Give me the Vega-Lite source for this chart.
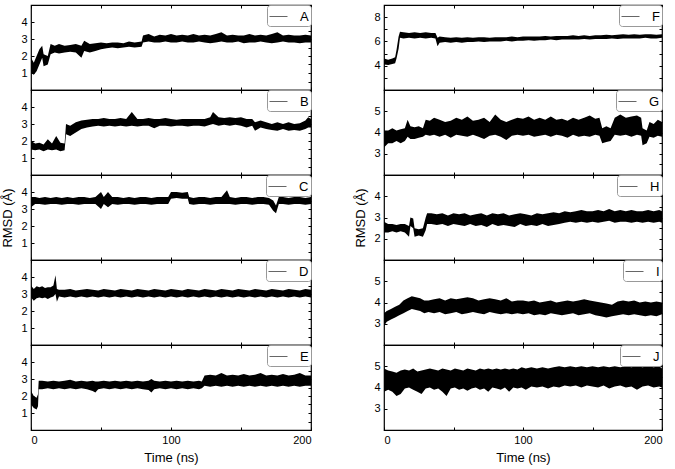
{
"$schema": "https://vega.github.io/schema/vega-lite/v6.json",
"padding": {"left": 1, "top": 3, "right": 4, "bottom": 2},
"background": "white",
"datasets": {
"A": [{"t":0,"l":1.0,"h":1.9},{"t":2,"l":0.9,"h":1.6},{"t":4,"l":1.1,"h":2.0},{"t":6,"l":1.5,"h":2.4},{"t":8,"l":1.9,"h":2.6},{"t":9,"l":1.4,"h":2.1},{"t":12,"l":1.5,"h":2.0},{"t":14,"l":2.1,"h":2.7},{"t":17,"l":2.2,"h":2.6},{"t":20,"l":2.15,"h":2.7},{"t":24,"l":2.2,"h":2.6},{"t":28,"l":2.25,"h":2.65},{"t":32,"l":2.2,"h":2.7},{"t":36,"l":1.9,"h":2.6},{"t":38,"l":2.3,"h":2.9},{"t":42,"l":2.2,"h":2.7},{"t":46,"l":2.3,"h":2.75},{"t":50,"l":2.4,"h":2.8},{"t":54,"l":2.45,"h":2.75},{"t":58,"l":2.5,"h":2.8},{"t":62,"l":2.45,"h":2.8},{"t":66,"l":2.5,"h":2.75},{"t":70,"l":2.55,"h":2.85},{"t":74,"l":2.5,"h":2.8},{"t":79,"l":2.55,"h":2.85},{"t":80,"l":2.8,"h":3.2},{"t":84,"l":2.85,"h":3.3},{"t":88,"l":2.8,"h":3.15},{"t":92,"l":2.8,"h":3.25},{"t":96,"l":2.85,"h":3.2},{"t":100,"l":2.8,"h":3.3},{"t":104,"l":2.8,"h":3.2},{"t":108,"l":2.85,"h":3.25},{"t":112,"l":2.8,"h":3.2},{"t":116,"l":2.8,"h":3.3},{"t":120,"l":2.85,"h":3.2},{"t":124,"l":2.8,"h":3.25},{"t":128,"l":2.75,"h":3.2},{"t":132,"l":2.8,"h":3.3},{"t":136,"l":2.85,"h":3.4},{"t":140,"l":2.8,"h":3.2},{"t":144,"l":2.8,"h":3.25},{"t":148,"l":2.85,"h":3.2},{"t":152,"l":2.75,"h":3.2},{"t":156,"l":2.8,"h":3.3},{"t":160,"l":2.8,"h":3.2},{"t":164,"l":2.85,"h":3.25},{"t":168,"l":2.8,"h":3.2},{"t":172,"l":2.75,"h":3.3},{"t":176,"l":2.8,"h":3.4},{"t":180,"l":2.85,"h":3.2},{"t":184,"l":2.8,"h":3.25},{"t":188,"l":2.8,"h":3.2},{"t":192,"l":2.75,"h":3.2},{"t":196,"l":2.8,"h":3.25},{"t":200,"l":2.8,"h":3.2}],
"B": [{"t":0,"l":1.5,"h":2.0},{"t":3,"l":1.45,"h":1.85},{"t":6,"l":1.5,"h":1.9},{"t":9,"l":1.4,"h":1.8},{"t":12,"l":1.5,"h":2.1},{"t":15,"l":1.45,"h":1.85},{"t":18,"l":1.5,"h":2.3},{"t":21,"l":1.4,"h":1.9},{"t":24,"l":1.45,"h":1.85},{"t":25,"l":2.4,"h":3.0},{"t":28,"l":2.3,"h":2.9},{"t":32,"l":2.5,"h":3.1},{"t":36,"l":2.7,"h":3.2},{"t":40,"l":2.8,"h":3.25},{"t":44,"l":2.85,"h":3.3},{"t":48,"l":2.9,"h":3.3},{"t":52,"l":2.85,"h":3.35},{"t":56,"l":2.9,"h":3.3},{"t":60,"l":2.85,"h":3.3},{"t":64,"l":2.9,"h":3.35},{"t":68,"l":2.85,"h":3.3},{"t":72,"l":2.9,"h":3.7},{"t":76,"l":2.85,"h":3.3},{"t":80,"l":2.9,"h":3.3},{"t":84,"l":2.9,"h":3.35},{"t":88,"l":2.75,"h":3.3},{"t":92,"l":2.9,"h":3.3},{"t":96,"l":2.9,"h":3.35},{"t":100,"l":2.85,"h":3.3},{"t":104,"l":2.9,"h":3.25},{"t":108,"l":2.9,"h":3.3},{"t":112,"l":2.85,"h":3.3},{"t":116,"l":2.9,"h":3.3},{"t":120,"l":2.9,"h":3.3},{"t":124,"l":2.85,"h":3.3},{"t":128,"l":2.95,"h":3.4},{"t":130,"l":3.0,"h":3.7},{"t":134,"l":2.9,"h":3.4},{"t":138,"l":2.95,"h":3.35},{"t":142,"l":2.9,"h":3.4},{"t":146,"l":2.95,"h":3.35},{"t":150,"l":2.9,"h":3.4},{"t":154,"l":2.8,"h":3.3},{"t":158,"l":2.9,"h":3.3},{"t":160,"l":2.6,"h":3.1},{"t":164,"l":2.8,"h":3.2},{"t":168,"l":2.7,"h":3.1},{"t":172,"l":2.65,"h":3.0},{"t":176,"l":2.6,"h":3.1},{"t":180,"l":2.7,"h":3.0},{"t":184,"l":2.6,"h":3.1},{"t":188,"l":2.65,"h":3.0},{"t":192,"l":2.6,"h":3.05},{"t":196,"l":2.7,"h":3.2},{"t":198,"l":2.8,"h":3.4},{"t":200,"l":2.8,"h":3.3}],
"C": [{"t":0,"l":3.1,"h":3.7},{"t":3,"l":3.3,"h":3.7},{"t":6,"l":3.3,"h":3.65},{"t":10,"l":3.25,"h":3.7},{"t":14,"l":3.3,"h":3.65},{"t":18,"l":3.3,"h":3.7},{"t":22,"l":3.25,"h":3.65},{"t":26,"l":3.3,"h":3.7},{"t":30,"l":3.3,"h":3.65},{"t":34,"l":3.25,"h":3.7},{"t":38,"l":3.3,"h":3.7},{"t":42,"l":3.3,"h":3.65},{"t":46,"l":3.3,"h":3.7},{"t":50,"l":3.0,"h":4.0},{"t":52,"l":3.3,"h":3.7},{"t":55,"l":3.1,"h":4.0},{"t":58,"l":3.3,"h":3.7},{"t":62,"l":3.25,"h":3.7},{"t":66,"l":3.3,"h":3.65},{"t":70,"l":3.3,"h":3.7},{"t":74,"l":3.25,"h":3.65},{"t":78,"l":3.3,"h":3.7},{"t":82,"l":3.3,"h":3.7},{"t":86,"l":3.25,"h":3.65},{"t":90,"l":3.3,"h":3.7},{"t":94,"l":3.3,"h":3.7},{"t":98,"l":3.3,"h":3.7},{"t":100,"l":3.6,"h":4.0},{"t":104,"l":3.65,"h":4.0},{"t":108,"l":3.6,"h":3.95},{"t":112,"l":3.6,"h":4.0},{"t":113,"l":3.3,"h":3.7},{"t":116,"l":3.25,"h":3.65},{"t":120,"l":3.3,"h":3.7},{"t":124,"l":3.3,"h":3.7},{"t":128,"l":3.25,"h":3.65},{"t":132,"l":3.3,"h":3.7},{"t":136,"l":3.3,"h":3.7},{"t":140,"l":3.3,"h":4.1},{"t":142,"l":3.3,"h":3.7},{"t":146,"l":3.25,"h":3.65},{"t":150,"l":3.3,"h":3.7},{"t":154,"l":3.3,"h":3.7},{"t":158,"l":3.25,"h":3.65},{"t":162,"l":3.3,"h":3.7},{"t":166,"l":3.3,"h":3.7},{"t":170,"l":3.25,"h":3.65},{"t":173,"l":2.9,"h":3.5},{"t":175,"l":2.75,"h":3.2},{"t":177,"l":3.3,"h":3.7},{"t":180,"l":3.3,"h":3.7},{"t":184,"l":3.25,"h":3.65},{"t":188,"l":3.3,"h":3.7},{"t":192,"l":3.3,"h":3.7},{"t":196,"l":3.25,"h":3.65},{"t":200,"l":3.3,"h":3.7}],
"D": [{"t":0,"l":2.8,"h":3.5},{"t":2,"l":2.6,"h":3.3},{"t":4,"l":2.75,"h":3.45},{"t":6,"l":2.8,"h":3.4},{"t":8,"l":2.75,"h":3.45},{"t":10,"l":2.8,"h":3.35},{"t":12,"l":2.7,"h":3.4},{"t":14,"l":2.8,"h":3.4},{"t":16,"l":2.85,"h":3.5},{"t":17.5,"l":3.0,"h":4.1},{"t":18.5,"l":2.55,"h":3.3},{"t":20,"l":2.85,"h":3.25},{"t":24,"l":2.8,"h":3.25},{"t":28,"l":2.85,"h":3.3},{"t":32,"l":2.8,"h":3.2},{"t":36,"l":2.85,"h":3.25},{"t":40,"l":2.8,"h":3.3},{"t":44,"l":2.85,"h":3.25},{"t":48,"l":2.8,"h":3.2},{"t":52,"l":2.85,"h":3.3},{"t":56,"l":2.8,"h":3.25},{"t":60,"l":2.85,"h":3.2},{"t":64,"l":2.8,"h":3.3},{"t":68,"l":2.85,"h":3.25},{"t":72,"l":2.8,"h":3.2},{"t":76,"l":2.85,"h":3.3},{"t":80,"l":2.8,"h":3.25},{"t":84,"l":2.85,"h":3.2},{"t":88,"l":2.8,"h":3.3},{"t":92,"l":2.85,"h":3.25},{"t":96,"l":2.8,"h":3.2},{"t":100,"l":2.85,"h":3.3},{"t":104,"l":2.8,"h":3.25},{"t":108,"l":2.85,"h":3.2},{"t":112,"l":2.8,"h":3.3},{"t":116,"l":2.85,"h":3.25},{"t":120,"l":2.8,"h":3.2},{"t":124,"l":2.85,"h":3.3},{"t":128,"l":2.8,"h":3.25},{"t":132,"l":2.85,"h":3.2},{"t":136,"l":2.8,"h":3.3},{"t":140,"l":2.85,"h":3.25},{"t":144,"l":2.8,"h":3.2},{"t":148,"l":2.85,"h":3.3},{"t":152,"l":2.8,"h":3.25},{"t":156,"l":2.85,"h":3.2},{"t":160,"l":2.8,"h":3.3},{"t":164,"l":2.85,"h":3.25},{"t":168,"l":2.8,"h":3.2},{"t":172,"l":2.85,"h":3.3},{"t":176,"l":2.8,"h":3.25},{"t":180,"l":2.85,"h":3.2},{"t":184,"l":2.8,"h":3.3},{"t":188,"l":2.85,"h":3.25},{"t":192,"l":2.8,"h":3.2},{"t":196,"l":2.85,"h":3.3},{"t":200,"l":2.8,"h":3.25}],
"E": [{"t":0,"l":1.5,"h":2.3},{"t":2,"l":1.3,"h":2.0},{"t":4,"l":1.2,"h":1.9},{"t":5,"l":1.4,"h":2.1},{"t":5.5,"l":2.4,"h":2.9},{"t":8,"l":2.4,"h":2.9},{"t":12,"l":2.45,"h":2.85},{"t":16,"l":2.4,"h":2.9},{"t":20,"l":2.45,"h":2.85},{"t":24,"l":2.4,"h":2.9},{"t":28,"l":2.45,"h":2.95},{"t":32,"l":2.4,"h":2.85},{"t":36,"l":2.45,"h":2.9},{"t":40,"l":2.4,"h":2.85},{"t":44,"l":2.3,"h":2.9},{"t":46,"l":2.2,"h":2.85},{"t":48,"l":2.4,"h":2.85},{"t":52,"l":2.45,"h":2.9},{"t":56,"l":2.4,"h":2.85},{"t":60,"l":2.45,"h":2.9},{"t":64,"l":2.4,"h":2.85},{"t":68,"l":2.45,"h":2.9},{"t":72,"l":2.4,"h":2.85},{"t":76,"l":2.45,"h":2.9},{"t":80,"l":2.4,"h":2.85},{"t":84,"l":2.35,"h":2.9},{"t":86,"l":2.2,"h":3.0},{"t":88,"l":2.4,"h":2.9},{"t":92,"l":2.45,"h":2.85},{"t":96,"l":2.4,"h":2.9},{"t":100,"l":2.45,"h":2.85},{"t":104,"l":2.4,"h":2.9},{"t":108,"l":2.45,"h":2.85},{"t":112,"l":2.4,"h":2.9},{"t":116,"l":2.45,"h":2.85},{"t":120,"l":2.4,"h":2.9},{"t":122,"l":2.45,"h":2.85},{"t":124,"l":2.6,"h":3.2},{"t":128,"l":2.55,"h":3.25},{"t":132,"l":2.6,"h":3.2},{"t":136,"l":2.55,"h":3.35},{"t":140,"l":2.6,"h":3.2},{"t":144,"l":2.55,"h":3.25},{"t":148,"l":2.6,"h":3.2},{"t":152,"l":2.55,"h":3.3},{"t":156,"l":2.6,"h":3.2},{"t":160,"l":2.55,"h":3.25},{"t":164,"l":2.6,"h":3.35},{"t":168,"l":2.55,"h":3.2},{"t":172,"l":2.6,"h":3.25},{"t":176,"l":2.55,"h":3.2},{"t":180,"l":2.6,"h":3.3},{"t":184,"l":2.55,"h":3.2},{"t":188,"l":2.6,"h":3.25},{"t":192,"l":2.55,"h":3.35},{"t":196,"l":2.6,"h":3.2},{"t":200,"l":2.6,"h":3.2}],
"F": [{"t":0,"l":4.1,"h":4.6},{"t":3,"l":4.05,"h":4.5},{"t":6,"l":4.15,"h":4.6},{"t":8,"l":4.2,"h":4.7},{"t":9,"l":4.6,"h":5.3},{"t":10.5,"l":5.4,"h":6.4},{"t":11.5,"l":6.3,"h":6.8},{"t":14,"l":6.25,"h":6.75},{"t":18,"l":6.3,"h":6.7},{"t":22,"l":6.25,"h":6.75},{"t":26,"l":6.3,"h":6.7},{"t":30,"l":6.25,"h":6.75},{"t":34,"l":6.3,"h":6.7},{"t":37,"l":6.25,"h":6.7},{"t":38.5,"l":5.6,"h":6.3},{"t":40,"l":5.9,"h":6.4},{"t":44,"l":5.95,"h":6.35},{"t":48,"l":5.9,"h":6.3},{"t":52,"l":5.95,"h":6.35},{"t":56,"l":5.9,"h":6.3},{"t":60,"l":5.95,"h":6.35},{"t":64,"l":5.95,"h":6.3},{"t":68,"l":6.0,"h":6.35},{"t":72,"l":5.95,"h":6.35},{"t":76,"l":6.0,"h":6.3},{"t":80,"l":6.0,"h":6.35},{"t":84,"l":6.0,"h":6.35},{"t":88,"l":6.05,"h":6.35},{"t":92,"l":6.0,"h":6.4},{"t":96,"l":6.05,"h":6.35},{"t":100,"l":6.05,"h":6.4},{"t":104,"l":6.1,"h":6.4},{"t":108,"l":6.05,"h":6.4},{"t":112,"l":6.1,"h":6.4},{"t":116,"l":6.1,"h":6.45},{"t":120,"l":6.15,"h":6.4},{"t":124,"l":6.1,"h":6.45},{"t":128,"l":6.15,"h":6.45},{"t":132,"l":6.15,"h":6.45},{"t":136,"l":6.15,"h":6.5},{"t":140,"l":6.15,"h":6.45},{"t":144,"l":6.2,"h":6.5},{"t":148,"l":6.15,"h":6.45},{"t":152,"l":6.2,"h":6.5},{"t":156,"l":6.2,"h":6.5},{"t":160,"l":6.2,"h":6.55},{"t":164,"l":6.25,"h":6.5},{"t":168,"l":6.2,"h":6.55},{"t":172,"l":6.25,"h":6.6},{"t":176,"l":6.25,"h":6.55},{"t":180,"l":6.25,"h":6.6},{"t":184,"l":6.25,"h":6.55},{"t":188,"l":6.3,"h":6.6},{"t":192,"l":6.25,"h":6.6},{"t":196,"l":6.25,"h":6.55},{"t":200,"l":6.3,"h":6.6}],
"G": [{"t":0,"l":3.3,"h":4.1},{"t":3,"l":3.5,"h":4.1},{"t":6,"l":3.5,"h":4.2},{"t":9,"l":3.6,"h":4.1},{"t":12,"l":3.5,"h":4.15},{"t":15,"l":3.6,"h":4.2},{"t":17,"l":3.8,"h":4.6},{"t":19,"l":3.7,"h":4.3},{"t":22,"l":3.7,"h":4.25},{"t":25,"l":3.75,"h":4.3},{"t":28,"l":3.8,"h":4.2},{"t":30,"l":3.9,"h":4.6},{"t":33,"l":3.85,"h":4.55},{"t":36,"l":3.9,"h":4.7},{"t":40,"l":3.8,"h":4.6},{"t":44,"l":3.9,"h":4.5},{"t":48,"l":3.75,"h":4.55},{"t":52,"l":3.9,"h":4.7},{"t":56,"l":3.85,"h":4.6},{"t":60,"l":3.8,"h":4.75},{"t":64,"l":3.9,"h":4.55},{"t":68,"l":3.8,"h":4.6},{"t":72,"l":3.7,"h":4.7},{"t":76,"l":3.85,"h":4.5},{"t":80,"l":3.9,"h":4.85},{"t":84,"l":3.8,"h":4.6},{"t":88,"l":3.65,"h":4.5},{"t":92,"l":3.85,"h":4.6},{"t":96,"l":3.9,"h":4.7},{"t":100,"l":3.85,"h":4.65},{"t":104,"l":3.9,"h":4.75},{"t":108,"l":3.8,"h":4.6},{"t":112,"l":3.85,"h":4.7},{"t":116,"l":3.9,"h":4.6},{"t":120,"l":3.8,"h":4.75},{"t":124,"l":3.9,"h":4.6},{"t":128,"l":3.85,"h":4.65},{"t":132,"l":3.75,"h":4.55},{"t":136,"l":3.9,"h":4.7},{"t":140,"l":3.8,"h":4.6},{"t":144,"l":3.85,"h":4.7},{"t":148,"l":3.8,"h":4.8},{"t":152,"l":3.9,"h":4.65},{"t":155,"l":3.85,"h":4.7},{"t":157,"l":3.5,"h":4.2},{"t":160,"l":3.55,"h":4.3},{"t":163,"l":3.6,"h":4.2},{"t":166,"l":3.9,"h":4.7},{"t":170,"l":3.85,"h":4.85},{"t":174,"l":3.9,"h":4.7},{"t":178,"l":3.8,"h":4.75},{"t":182,"l":3.9,"h":4.8},{"t":185,"l":3.85,"h":4.7},{"t":186,"l":3.4,"h":4.2},{"t":189,"l":3.5,"h":4.1},{"t":191,"l":3.8,"h":4.5},{"t":194,"l":3.75,"h":4.4},{"t":197,"l":3.85,"h":4.6},{"t":200,"l":3.8,"h":4.5}],
"H": [{"t":0,"l":2.3,"h":2.8},{"t":3,"l":2.3,"h":2.7},{"t":6,"l":2.35,"h":2.7},{"t":9,"l":2.3,"h":2.65},{"t":12,"l":2.35,"h":2.7},{"t":15,"l":2.3,"h":2.7},{"t":18,"l":2.1,"h":2.6},{"t":19,"l":2.6,"h":3.0},{"t":21,"l":2.5,"h":2.95},{"t":22,"l":2.1,"h":2.5},{"t":25,"l":2.15,"h":2.45},{"t":28,"l":2.1,"h":2.5},{"t":30,"l":2.4,"h":3.0},{"t":31,"l":2.7,"h":3.2},{"t":34,"l":2.7,"h":3.2},{"t":38,"l":2.65,"h":3.15},{"t":42,"l":2.7,"h":3.2},{"t":46,"l":2.6,"h":3.1},{"t":50,"l":2.7,"h":3.2},{"t":54,"l":2.65,"h":3.15},{"t":58,"l":2.6,"h":3.2},{"t":62,"l":2.7,"h":3.1},{"t":66,"l":2.6,"h":3.15},{"t":70,"l":2.65,"h":3.2},{"t":74,"l":2.55,"h":3.1},{"t":78,"l":2.7,"h":3.2},{"t":82,"l":2.6,"h":3.15},{"t":86,"l":2.65,"h":3.2},{"t":90,"l":2.6,"h":3.1},{"t":94,"l":2.55,"h":3.15},{"t":98,"l":2.7,"h":3.2},{"t":102,"l":2.6,"h":3.15},{"t":106,"l":2.65,"h":3.1},{"t":110,"l":2.6,"h":3.2},{"t":114,"l":2.7,"h":3.15},{"t":118,"l":2.6,"h":3.2},{"t":122,"l":2.65,"h":3.25},{"t":126,"l":2.7,"h":3.2},{"t":130,"l":2.75,"h":3.3},{"t":134,"l":2.8,"h":3.25},{"t":138,"l":2.75,"h":3.3},{"t":142,"l":2.8,"h":3.35},{"t":146,"l":2.75,"h":3.3},{"t":150,"l":2.8,"h":3.3},{"t":154,"l":2.75,"h":3.35},{"t":158,"l":2.8,"h":3.3},{"t":162,"l":2.85,"h":3.4},{"t":166,"l":2.75,"h":3.3},{"t":170,"l":2.8,"h":3.35},{"t":174,"l":2.8,"h":3.3},{"t":178,"l":2.75,"h":3.35},{"t":182,"l":2.8,"h":3.3},{"t":186,"l":2.75,"h":3.3},{"t":190,"l":2.8,"h":3.35},{"t":194,"l":2.75,"h":3.3},{"t":198,"l":2.8,"h":3.35},{"t":200,"l":2.75,"h":3.3}],
"I": [{"t":0,"l":2.9,"h":3.5},{"t":2,"l":3.1,"h":3.6},{"t":5,"l":3.2,"h":3.7},{"t":8,"l":3.3,"h":3.8},{"t":11,"l":3.4,"h":3.9},{"t":14,"l":3.5,"h":4.1},{"t":17,"l":3.6,"h":4.2},{"t":20,"l":3.7,"h":4.3},{"t":23,"l":3.65,"h":4.25},{"t":26,"l":3.6,"h":4.2},{"t":29,"l":3.5,"h":4.1},{"t":32,"l":3.55,"h":4.1},{"t":36,"l":3.5,"h":4.15},{"t":40,"l":3.55,"h":4.2},{"t":44,"l":3.45,"h":4.1},{"t":48,"l":3.5,"h":4.2},{"t":52,"l":3.55,"h":4.15},{"t":56,"l":3.45,"h":4.2},{"t":60,"l":3.5,"h":4.25},{"t":64,"l":3.55,"h":4.2},{"t":68,"l":3.5,"h":4.1},{"t":72,"l":3.45,"h":4.15},{"t":76,"l":3.55,"h":4.2},{"t":80,"l":3.5,"h":4.15},{"t":84,"l":3.45,"h":4.1},{"t":88,"l":3.5,"h":4.2},{"t":92,"l":3.45,"h":4.05},{"t":96,"l":3.5,"h":4.1},{"t":100,"l":3.45,"h":4.1},{"t":104,"l":3.5,"h":4.05},{"t":108,"l":3.4,"h":4.1},{"t":112,"l":3.45,"h":4.0},{"t":116,"l":3.4,"h":4.05},{"t":120,"l":3.5,"h":4.1},{"t":124,"l":3.45,"h":4.0},{"t":128,"l":3.4,"h":4.05},{"t":132,"l":3.45,"h":4.1},{"t":136,"l":3.5,"h":4.05},{"t":140,"l":3.4,"h":4.1},{"t":144,"l":3.45,"h":4.15},{"t":148,"l":3.5,"h":4.1},{"t":152,"l":3.4,"h":4.05},{"t":156,"l":3.35,"h":4.0},{"t":160,"l":3.3,"h":3.95},{"t":164,"l":3.35,"h":3.9},{"t":168,"l":3.4,"h":4.05},{"t":172,"l":3.45,"h":4.1},{"t":176,"l":3.4,"h":4.05},{"t":180,"l":3.45,"h":4.1},{"t":184,"l":3.4,"h":4.0},{"t":188,"l":3.35,"h":4.05},{"t":192,"l":3.4,"h":4.0},{"t":196,"l":3.35,"h":4.05},{"t":200,"l":3.45,"h":4.0}],
"J": [{"t":0,"l":3.8,"h":4.9},{"t":3,"l":3.9,"h":4.8},{"t":6,"l":3.8,"h":4.75},{"t":9,"l":3.6,"h":4.7},{"t":12,"l":3.7,"h":4.8},{"t":15,"l":3.95,"h":4.85},{"t":18,"l":4.0,"h":4.8},{"t":21,"l":3.9,"h":4.9},{"t":24,"l":3.8,"h":4.75},{"t":27,"l":3.7,"h":4.8},{"t":30,"l":3.95,"h":4.85},{"t":33,"l":4.0,"h":4.9},{"t":36,"l":3.9,"h":4.85},{"t":39,"l":3.95,"h":4.8},{"t":42,"l":3.8,"h":4.9},{"t":45,"l":3.6,"h":4.85},{"t":48,"l":3.95,"h":4.8},{"t":51,"l":4.0,"h":4.9},{"t":54,"l":3.9,"h":4.85},{"t":57,"l":3.95,"h":4.8},{"t":60,"l":3.85,"h":4.9},{"t":63,"l":3.95,"h":4.85},{"t":66,"l":4.0,"h":4.8},{"t":69,"l":3.9,"h":4.9},{"t":72,"l":3.95,"h":4.85},{"t":75,"l":3.8,"h":4.9},{"t":78,"l":4.0,"h":4.85},{"t":81,"l":3.95,"h":4.9},{"t":84,"l":3.9,"h":4.85},{"t":87,"l":4.0,"h":4.9},{"t":90,"l":3.8,"h":4.85},{"t":93,"l":4.0,"h":4.9},{"t":96,"l":3.95,"h":4.85},{"t":99,"l":4.0,"h":4.95},{"t":102,"l":3.9,"h":4.9},{"t":106,"l":4.05,"h":4.95},{"t":110,"l":4.0,"h":4.9},{"t":114,"l":4.05,"h":4.95},{"t":118,"l":3.95,"h":4.9},{"t":122,"l":4.05,"h":4.95},{"t":126,"l":4.0,"h":5.0},{"t":130,"l":4.1,"h":4.95},{"t":134,"l":4.05,"h":5.0},{"t":138,"l":4.1,"h":4.95},{"t":142,"l":4.0,"h":5.0},{"t":146,"l":4.1,"h":4.95},{"t":150,"l":4.05,"h":5.0},{"t":154,"l":4.0,"h":4.95},{"t":158,"l":4.1,"h":5.0},{"t":162,"l":3.95,"h":4.95},{"t":166,"l":4.05,"h":5.0},{"t":170,"l":4.1,"h":4.95},{"t":174,"l":4.0,"h":5.0},{"t":178,"l":4.05,"h":4.95},{"t":182,"l":3.9,"h":5.0},{"t":186,"l":4.05,"h":4.95},{"t":190,"l":4.1,"h":5.0},{"t":194,"l":4.0,"h":4.95},{"t":198,"l":4.05,"h":5.0},{"t":200,"l":4.0,"h":4.9}]
},
"hconcat": [
{"vconcat": [
 {"width":280,"height":85,"data":{"name":"A"},"layer":[
  {"mark":"area","encoding":{"x":{"field":"t","type":"quantitative","scale":{"domain":[0,200],"nice":false},"axis":{"orient":"bottom","values":[0,50,100,150,200],"labels":false,"title":null}},"y":{"field":"l","type":"quantitative","scale":{"domain":[0,5],"nice":false,"zero":false},"axis":{"orient":"left","values":[0,0.5,1,1.5,2,2.5,3,3.5,4,4.5,5],"format":"d","labelExpr":"indexof([1,2,3,4], datum.value) >= 0 ? datum.label : ''","title":null}},"y2":{"field":"h"},"color":{"datum":"A","scale":{"domain":["A"],"range":["black"]}}}},
  {"mark":{"type":"area","opacity":0},"encoding":{"x":{"field":"t","type":"quantitative","axis":{"orient":"top","values":[0,50,100,150,200],"labels":false,"title":null}},"y":{"field":"l","type":"quantitative","axis":{"orient":"right","values":[0,0.5,1,1.5,2,2.5,3,3.5,4,4.5,5],"labels":false,"title":null}},"y2":{"field":"h"}}}
 ],"resolve":{"axis":{"x":"independent","y":"independent"}}},
 {"width":280,"height":85,"data":{"name":"B"},"layer":[
  {"mark":"area","encoding":{"x":{"field":"t","type":"quantitative","scale":{"domain":[0,200],"nice":false},"axis":{"orient":"bottom","values":[0,50,100,150,200],"labels":false,"title":null}},"y":{"field":"l","type":"quantitative","scale":{"domain":[0,5],"nice":false,"zero":false},"axis":{"orient":"left","values":[0,0.5,1,1.5,2,2.5,3,3.5,4,4.5,5],"format":"d","labelExpr":"indexof([1,2,3,4], datum.value) >= 0 ? datum.label : ''","title":null}},"y2":{"field":"h"},"color":{"datum":"B","scale":{"domain":["B"],"range":["black"]}}}},
  {"mark":{"type":"area","opacity":0},"encoding":{"x":{"field":"t","type":"quantitative","axis":{"orient":"top","values":[0,50,100,150,200],"labels":false,"title":null}},"y":{"field":"l","type":"quantitative","axis":{"orient":"right","values":[0,0.5,1,1.5,2,2.5,3,3.5,4,4.5,5],"labels":false,"title":null}},"y2":{"field":"h"}}}
 ],"resolve":{"axis":{"x":"independent","y":"independent"}}},
 {"width":280,"height":85,"data":{"name":"C"},"layer":[
  {"mark":"area","encoding":{"x":{"field":"t","type":"quantitative","scale":{"domain":[0,200],"nice":false},"axis":{"orient":"bottom","values":[0,50,100,150,200],"labels":false,"title":null}},"y":{"field":"l","type":"quantitative","scale":{"domain":[0,5],"nice":false,"zero":false},"axis":{"orient":"left","values":[0,0.5,1,1.5,2,2.5,3,3.5,4,4.5,5],"format":"d","labelExpr":"indexof([1,2,3,4], datum.value) >= 0 ? datum.label : ''","title":"RMSD (Å)"}},"y2":{"field":"h"},"color":{"datum":"C","scale":{"domain":["C"],"range":["black"]}}}},
  {"mark":{"type":"area","opacity":0},"encoding":{"x":{"field":"t","type":"quantitative","axis":{"orient":"top","values":[0,50,100,150,200],"labels":false,"title":null}},"y":{"field":"l","type":"quantitative","axis":{"orient":"right","values":[0,0.5,1,1.5,2,2.5,3,3.5,4,4.5,5],"labels":false,"title":null}},"y2":{"field":"h"}}}
 ],"resolve":{"axis":{"x":"independent","y":"independent"}}},
 {"width":280,"height":85,"data":{"name":"D"},"layer":[
  {"mark":"area","encoding":{"x":{"field":"t","type":"quantitative","scale":{"domain":[0,200],"nice":false},"axis":{"orient":"bottom","values":[0,50,100,150,200],"labels":false,"title":null}},"y":{"field":"l","type":"quantitative","scale":{"domain":[0,5],"nice":false,"zero":false},"axis":{"orient":"left","values":[0,0.5,1,1.5,2,2.5,3,3.5,4,4.5,5],"format":"d","labelExpr":"indexof([1,2,3,4], datum.value) >= 0 ? datum.label : ''","title":null}},"y2":{"field":"h"},"color":{"datum":"D","scale":{"domain":["D"],"range":["black"]}}}},
  {"mark":{"type":"area","opacity":0},"encoding":{"x":{"field":"t","type":"quantitative","axis":{"orient":"top","values":[0,50,100,150,200],"labels":false,"title":null}},"y":{"field":"l","type":"quantitative","axis":{"orient":"right","values":[0,0.5,1,1.5,2,2.5,3,3.5,4,4.5,5],"labels":false,"title":null}},"y2":{"field":"h"}}}
 ],"resolve":{"axis":{"x":"independent","y":"independent"}}},
 {"width":280,"height":85,"data":{"name":"E"},"layer":[
  {"mark":"area","encoding":{"x":{"field":"t","type":"quantitative","scale":{"domain":[0,200],"nice":false},"axis":{"orient":"bottom","values":[0,50,100,150,200],"format":"d","labelExpr":"datum.value % 100 === 0 ? datum.label : ''","title":"Time (ns)"}},"y":{"field":"l","type":"quantitative","scale":{"domain":[0,5],"nice":false,"zero":false},"axis":{"orient":"left","values":[0,0.5,1,1.5,2,2.5,3,3.5,4,4.5,5],"format":"d","labelExpr":"indexof([1,2,3,4], datum.value) >= 0 ? datum.label : ''","title":null}},"y2":{"field":"h"},"color":{"datum":"E","scale":{"domain":["E"],"range":["black"]}}}},
  {"mark":{"type":"area","opacity":0},"encoding":{"x":{"field":"t","type":"quantitative","axis":{"orient":"top","values":[0,50,100,150,200],"labels":false,"title":null}},"y":{"field":"l","type":"quantitative","axis":{"orient":"right","values":[0,0.5,1,1.5,2,2.5,3,3.5,4,4.5,5],"labels":false,"title":null}},"y2":{"field":"h"}}}
 ],"resolve":{"axis":{"x":"independent","y":"independent"}}}
], "spacing": 0, "bounds": "flush", "resolve": {"scale": {"color": "independent"}, "legend": {"color": "independent"}}},
{"vconcat": [
 {"width":278,"height":85,"data":{"name":"F"},"layer":[
  {"mark":"area","encoding":{"x":{"field":"t","type":"quantitative","scale":{"domain":[0,200],"nice":false},"axis":{"orient":"bottom","values":[0,50,100,150,200],"labels":false,"title":null}},"y":{"field":"l","type":"quantitative","scale":{"domain":[2,9],"nice":false,"zero":false},"axis":{"orient":"left","values":[2,3,4,5,6,7,8,9],"format":"d","labelExpr":"indexof([4,6,8], datum.value) >= 0 ? datum.label : ''","title":null}},"y2":{"field":"h"},"color":{"datum":"F","scale":{"domain":["F"],"range":["black"]}}}},
  {"mark":{"type":"area","opacity":0},"encoding":{"x":{"field":"t","type":"quantitative","axis":{"orient":"top","values":[0,50,100,150,200],"labels":false,"title":null}},"y":{"field":"l","type":"quantitative","axis":{"orient":"right","values":[2,3,4,5,6,7,8,9],"labels":false,"title":null}},"y2":{"field":"h"}}}
 ],"resolve":{"axis":{"x":"independent","y":"independent"}}},
 {"width":278,"height":85,"data":{"name":"G"},"layer":[
  {"mark":"area","encoding":{"x":{"field":"t","type":"quantitative","scale":{"domain":[0,200],"nice":false},"axis":{"orient":"bottom","values":[0,50,100,150,200],"labels":false,"title":null}},"y":{"field":"l","type":"quantitative","scale":{"domain":[2,6],"nice":false,"zero":false},"axis":{"orient":"left","values":[2,2.5,3,3.5,4,4.5,5,5.5,6],"format":"d","labelExpr":"indexof([3,4,5], datum.value) >= 0 ? datum.label : ''","title":null}},"y2":{"field":"h"},"color":{"datum":"G","scale":{"domain":["G"],"range":["black"]}}}},
  {"mark":{"type":"area","opacity":0},"encoding":{"x":{"field":"t","type":"quantitative","axis":{"orient":"top","values":[0,50,100,150,200],"labels":false,"title":null}},"y":{"field":"l","type":"quantitative","axis":{"orient":"right","values":[2,2.5,3,3.5,4,4.5,5,5.5,6],"labels":false,"title":null}},"y2":{"field":"h"}}}
 ],"resolve":{"axis":{"x":"independent","y":"independent"}}},
 {"width":278,"height":85,"data":{"name":"H"},"layer":[
  {"mark":"area","encoding":{"x":{"field":"t","type":"quantitative","scale":{"domain":[0,200],"nice":false},"axis":{"orient":"bottom","values":[0,50,100,150,200],"labels":false,"title":null}},"y":{"field":"l","type":"quantitative","scale":{"domain":[1,5],"nice":false,"zero":false},"axis":{"orient":"left","values":[1,1.5,2,2.5,3,3.5,4,4.5,5],"format":"d","labelExpr":"indexof([2,3,4], datum.value) >= 0 ? datum.label : ''","title":"RMSD (Å)"}},"y2":{"field":"h"},"color":{"datum":"H","scale":{"domain":["H"],"range":["black"]}}}},
  {"mark":{"type":"area","opacity":0},"encoding":{"x":{"field":"t","type":"quantitative","axis":{"orient":"top","values":[0,50,100,150,200],"labels":false,"title":null}},"y":{"field":"l","type":"quantitative","axis":{"orient":"right","values":[1,1.5,2,2.5,3,3.5,4,4.5,5],"labels":false,"title":null}},"y2":{"field":"h"}}}
 ],"resolve":{"axis":{"x":"independent","y":"independent"}}},
 {"width":278,"height":85,"data":{"name":"I"},"layer":[
  {"mark":"area","encoding":{"x":{"field":"t","type":"quantitative","scale":{"domain":[0,200],"nice":false},"axis":{"orient":"bottom","values":[0,50,100,150,200],"labels":false,"title":null}},"y":{"field":"l","type":"quantitative","scale":{"domain":[2,6],"nice":false,"zero":false},"axis":{"orient":"left","values":[2,2.5,3,3.5,4,4.5,5,5.5,6],"format":"d","labelExpr":"indexof([3,4,5], datum.value) >= 0 ? datum.label : ''","title":null}},"y2":{"field":"h"},"color":{"datum":"I","scale":{"domain":["I"],"range":["black"]}}}},
  {"mark":{"type":"area","opacity":0},"encoding":{"x":{"field":"t","type":"quantitative","axis":{"orient":"top","values":[0,50,100,150,200],"labels":false,"title":null}},"y":{"field":"l","type":"quantitative","axis":{"orient":"right","values":[2,2.5,3,3.5,4,4.5,5,5.5,6],"labels":false,"title":null}},"y2":{"field":"h"}}}
 ],"resolve":{"axis":{"x":"independent","y":"independent"}}},
 {"width":278,"height":85,"data":{"name":"J"},"layer":[
  {"mark":"area","encoding":{"x":{"field":"t","type":"quantitative","scale":{"domain":[0,200],"nice":false},"axis":{"orient":"bottom","values":[0,50,100,150,200],"format":"d","labelExpr":"datum.value % 100 === 0 ? datum.label : ''","title":"Time (ns)"}},"y":{"field":"l","type":"quantitative","scale":{"domain":[2,6],"nice":false,"zero":false},"axis":{"orient":"left","values":[2,2.5,3,3.5,4,4.5,5,5.5,6],"format":"d","labelExpr":"indexof([3,4,5], datum.value) >= 0 ? datum.label : ''","title":null}},"y2":{"field":"h"},"color":{"datum":"J","scale":{"domain":["J"],"range":["black"]}}}},
  {"mark":{"type":"area","opacity":0},"encoding":{"x":{"field":"t","type":"quantitative","axis":{"orient":"top","values":[0,50,100,150,200],"labels":false,"title":null}},"y":{"field":"l","type":"quantitative","axis":{"orient":"right","values":[2,2.5,3,3.5,4,4.5,5,5.5,6],"labels":false,"title":null}},"y2":{"field":"h"}}}
 ],"resolve":{"axis":{"x":"independent","y":"independent"}}}
], "spacing": 0, "bounds": "flush", "resolve": {"scale": {"color": "independent"}, "legend": {"color": "independent"}}}
],
"spacing": 41,
"resolve": {"scale": {"color": "independent"}, "legend": {"color": "independent"}},
"config": {
 "font": "Liberation Sans",
 "view": {"stroke": "black", "strokeWidth": 1.2},
 "area": {"color": "black"},
 "axis": {"domain": false, "grid": false, "tickColor": "black", "tickSize": -3, "tickWidth": 1, "labelColor": "black", "labelFontSize": 11, "labelPadding": 7, "titleFontSize": 13, "titleFontWeight": "normal", "titleColor": "black", "titlePadding": 6, "minExtent": 0},
 "legend": {"title": null, "orient": "top-right", "offset": 0, "strokeColor": "#999999", "cornerRadius": 3, "padding": 2, "fillColor": "white", "symbolType": "stroke", "symbolStrokeColor": "#666666", "symbolStrokeWidth": 1, "symbolSize": 324, "labelOffset": 12, "labelFontSize": 13, "labelColor": "black", "labelFont": "Liberation Sans"}
}
}
